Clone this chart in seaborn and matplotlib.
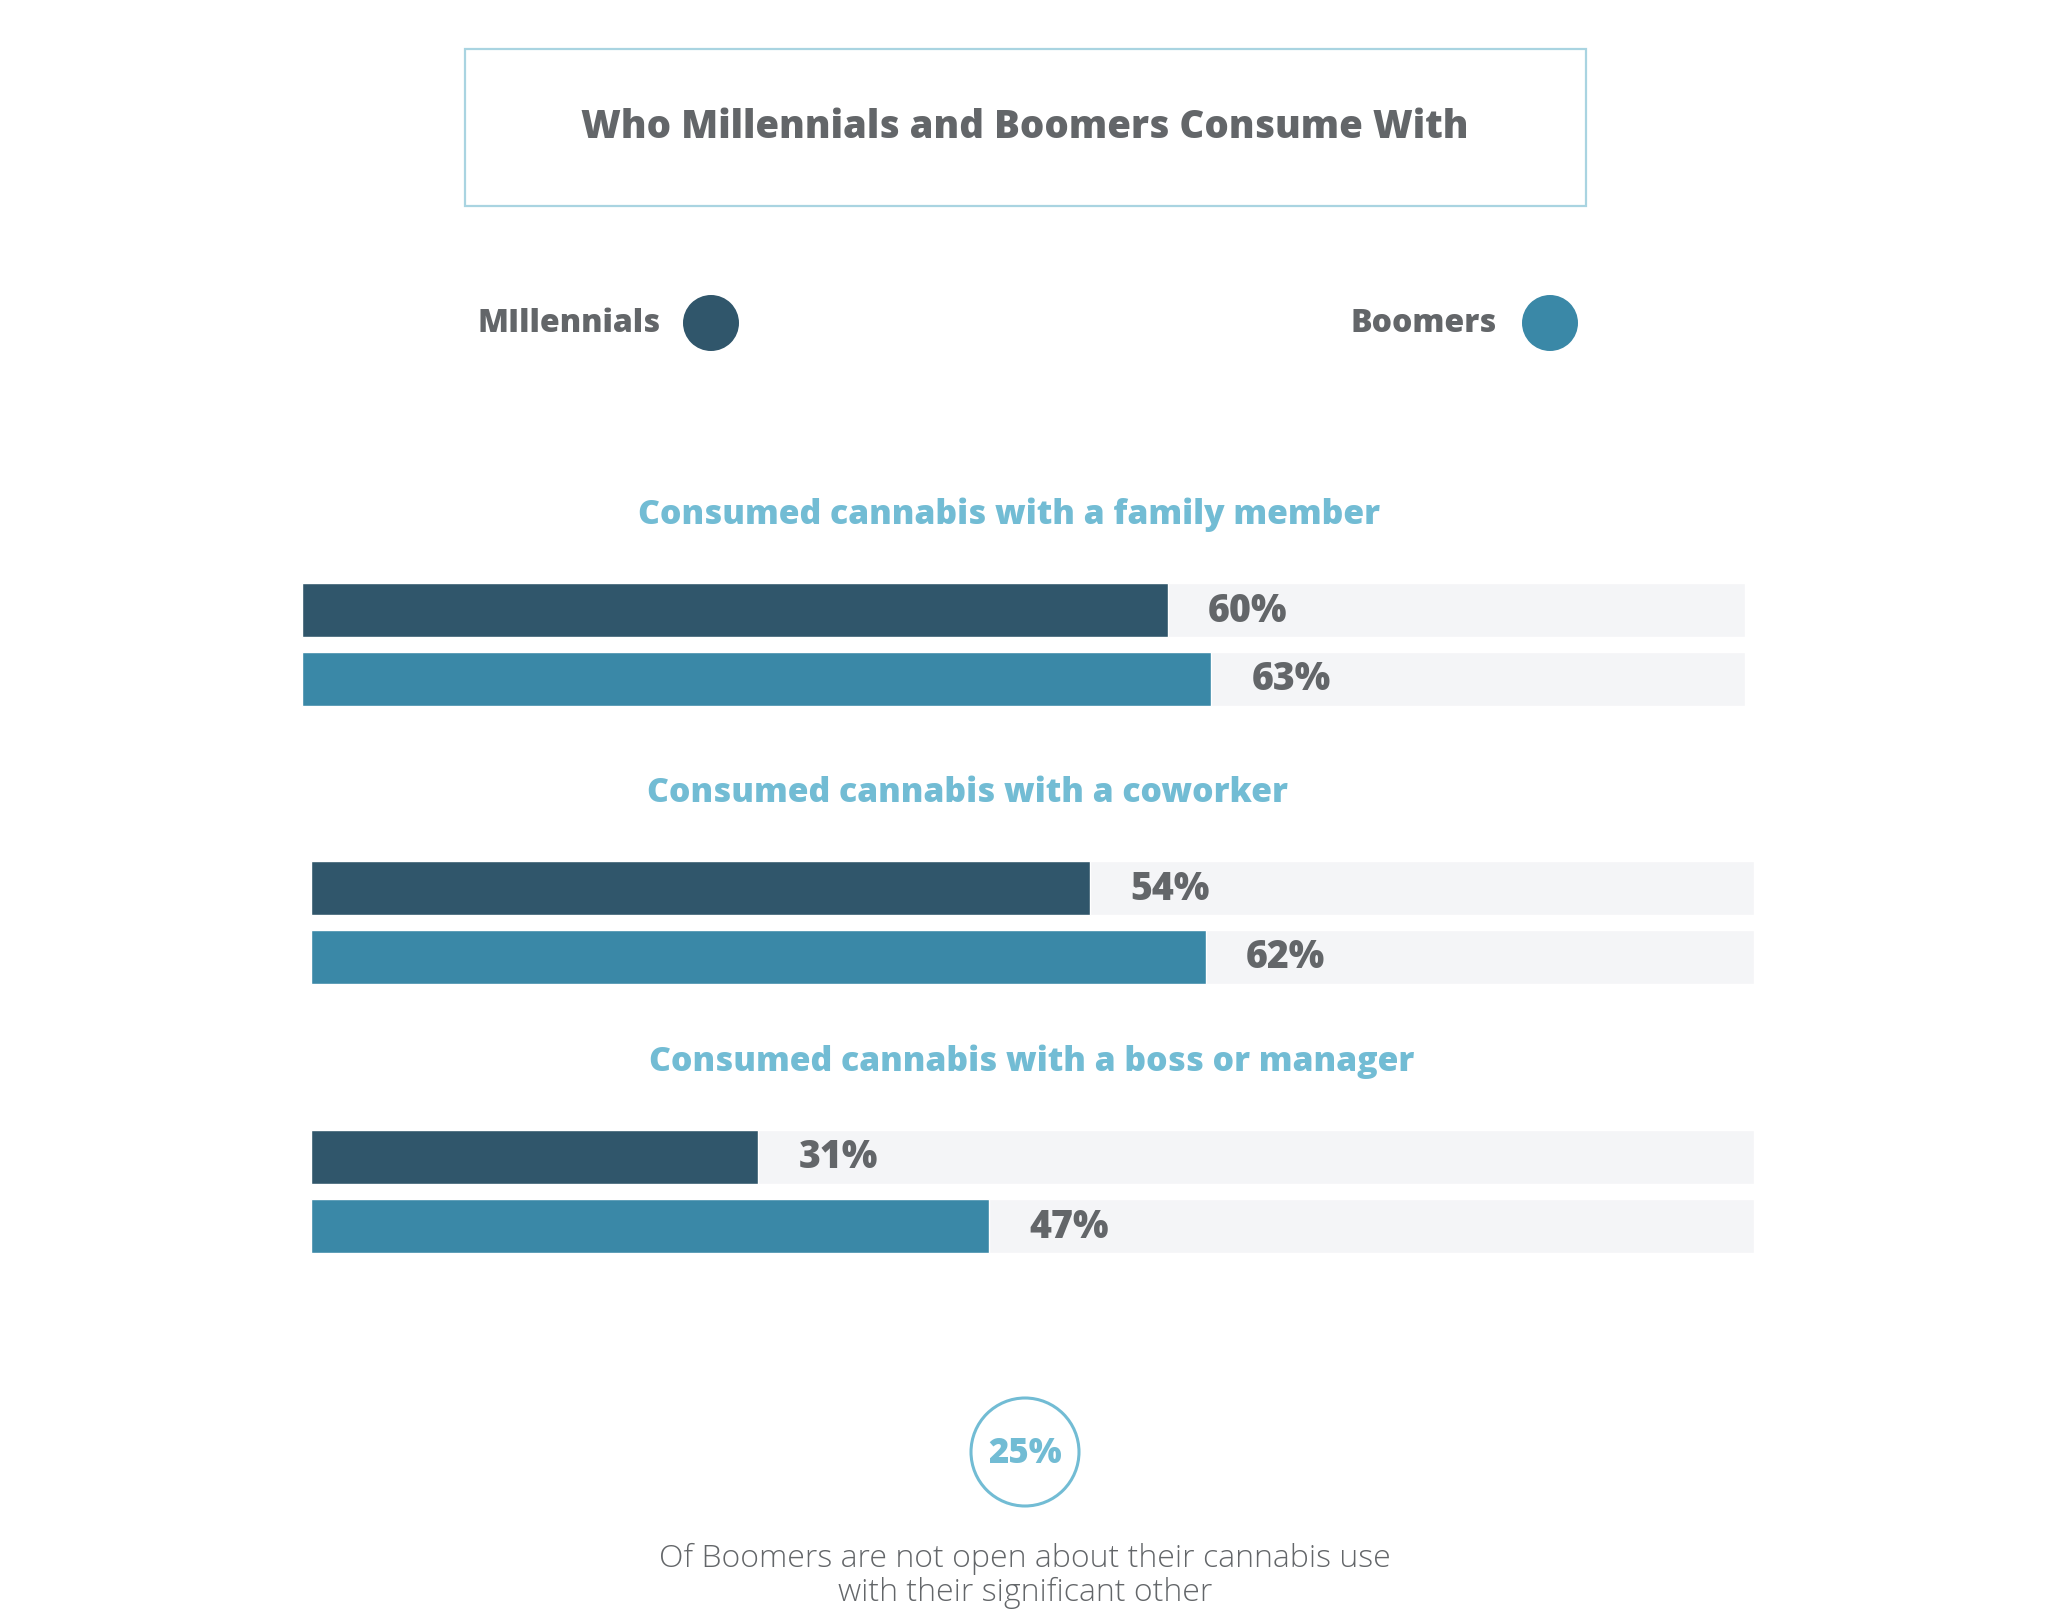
import numpy as np
import pandas as pd
import matplotlib
matplotlib.use("Agg")
import matplotlib.pyplot as plt
import seaborn as sns
from matplotlib.patches import Rectangle, Circle

# ---------------- data ----------------
title = "Who Millennials and Boomers Consume With"
series = ["Millennials", "Boomers"]
legend_labels = ["MIllennials", "Boomers"]
groups = ["Consumed cannabis with a family member",
          "Consumed cannabis with a coworker",
          "Consumed cannabis with a boss or manager"]
millennials = [60, 54, 31]
boomers = [63, 62, 47]
callout_value = "25%"
callout_lines = ["Of Boomers are not open about their cannabis use",
                 "with their significant other"]

# ---------------- style ----------------
C_MIL = "#30566B"
C_BOOM = "#3A88A7"
C_HEAD = "#72BCD4"
C_TEXT = "#636669"
C_BG = "#F4F5F7"
C_BOX = "#A9D4E1"
HEAVY = 800

sns.set_theme(style="white")
plt.rcParams["font.family"] = ["Open Sans", "DejaVu Sans"]

W, H = 2048, 1624
fig = plt.figure(figsize=(W / 100, H / 100), dpi=100)
fig.patch.set_facecolor("white")

ov = fig.add_axes([0, 0, 1, 1])
ov.set_xlim(0, W)
ov.set_ylim(H, 0)
ov.axis("off")

# title box
ov.add_patch(Rectangle((465, 50), 1121, 157, fill=False, edgecolor=C_BOX, linewidth=1.6))
ov.text(1025, 128, title, ha="center", va="center", fontsize=27.6, fontweight=HEAVY, color=C_TEXT)

# legend
leg_pos = [(661, 711), (1497, 1550)]
for lab, col, (tx, cx) in zip(legend_labels, [C_MIL, C_BOOM], leg_pos):
    ov.text(tx, 324, lab, ha="right", va="center", fontsize=23, fontweight=HEAVY, color=C_TEXT)
    ov.add_patch(Circle((cx, 324), 28, facecolor=col, edgecolor="none"))

# groups
layout = [
    dict(x0=302, x1=1745, c0=611, hy=515, hx=1009),
    dict(x0=311, x1=1754, c0=889, hy=793, hx=967),
    dict(x0=311, x1=1754, c0=1158, hy=1062, hx=1032),
]
step = 69
for i, g in enumerate(groups):
    L = layout[i]
    ov.text(L["hx"], L["hy"], g, ha="center", va="center", fontsize=24.3,
            fontweight=HEAVY, color=C_HEAD)
    top = L["c0"] - step / 2
    bottom = L["c0"] + step * 1.5
    ax = fig.add_axes([L["x0"] / W, 1 - bottom / H, (L["x1"] - L["x0"]) / W, (bottom - top) / H])
    df = pd.DataFrame({"series": series, "value": [millennials[i], boomers[i]]})
    bg = pd.DataFrame({"series": series, "value": [100, 100]})
    sns.barplot(data=bg, x="value", y="series", color=C_BG, width=0.78,
                saturation=1, ax=ax)
    sns.barplot(data=df, x="value", y="series", hue="series",
                palette={series[0]: C_MIL, series[1]: C_BOOM}, width=0.78,
                saturation=1, legend=False, ax=ax)
    ax.set_xlim(0, 100)
    ax.set_ylim(1.5, -0.5)
    ax.axis("off")
    for j, v in enumerate(df["value"]):
        ax.text(v + 2.8, j, f"{v}%", ha="left", va="center", fontsize=27,
                fontweight=HEAVY, color=C_TEXT)

# callout
ov.add_patch(Circle((1025, 1453), 54, fill=False, edgecolor=C_HEAD, linewidth=2.2))
ov.text(1025, 1454, callout_value, ha="center", va="center", fontsize=25,
        fontweight=HEAVY, color=C_HEAD)
ov.text(1025, 1559, callout_lines[0], ha="center", va="center", fontsize=23,
        fontweight="light", color=C_TEXT)
ov.text(1025, 1593, callout_lines[1], ha="center", va="center", fontsize=23,
        fontweight="light", color=C_TEXT)

fig.savefig("out.png", dpi=100, facecolor="white")
